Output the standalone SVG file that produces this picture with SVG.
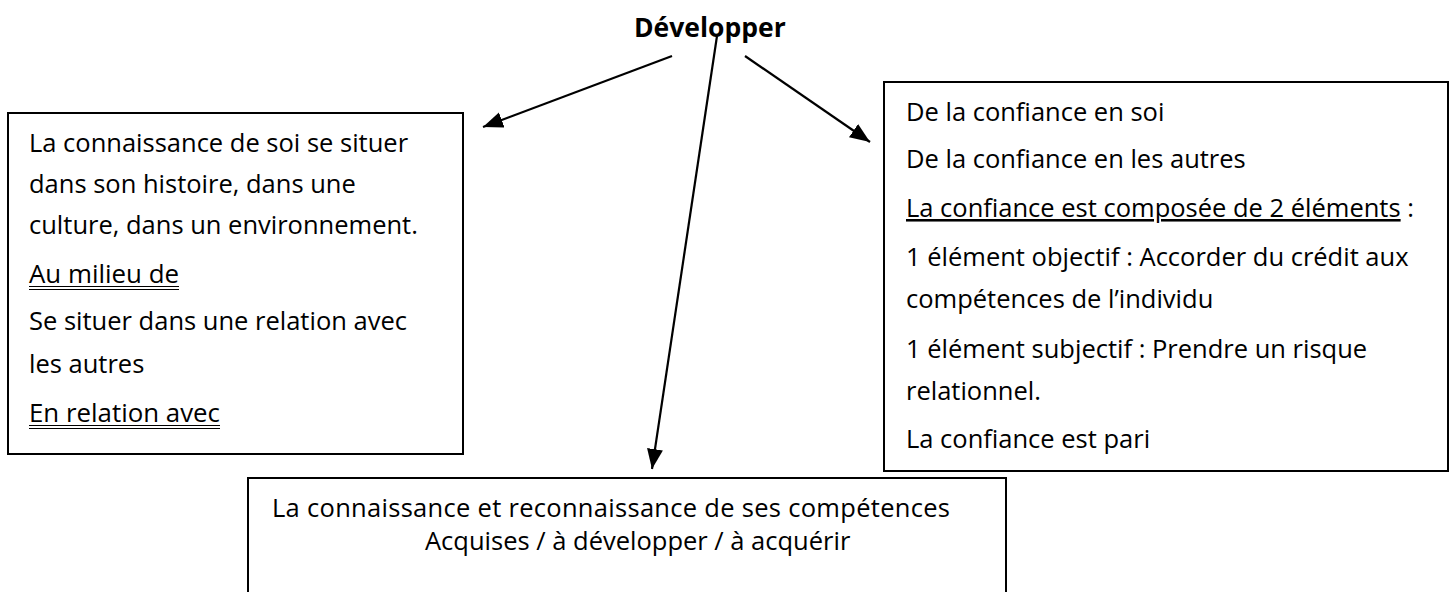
<svg xmlns="http://www.w3.org/2000/svg" width="1452" height="592" viewBox="0 0 1452 592">
<style>
.box{fill:#fff;stroke:#000;stroke-width:2}
.t{font-family:"Open Sans","Liberation Sans",sans-serif;font-size:25.5px;fill:#000}
.title{font-family:"Open Sans","Liberation Sans",sans-serif;font-size:26.5px;font-weight:bold;fill:#000}
.ul{stroke:#000;stroke-width:1}
.conn{stroke:#000;stroke-width:2.2;fill:none}
</style>
<defs>
<marker id="ah" markerUnits="userSpaceOnUse" markerWidth="22" markerHeight="18" refX="20" refY="8" orient="auto">
<path d="M0,0 L20,8 L0,16 z" fill="#000"/>
</marker>
</defs>
<rect width="1452" height="592" fill="#fff"/>
<g id="left-box">
<rect class="box" x="8" y="113" width="455" height="341"/>
<text class="t" x="29" y="152">La connaissance de soi se situer</text>
<text class="t" x="29" y="193">dans son histoire, dans une</text>
<text class="t" x="29" y="234">culture, dans un environnement.</text>
<text class="t" x="29" y="283" textLength="150" lengthAdjust="spacingAndGlyphs">Au milieu de</text>
<line class="ul" x1="29" y1="286.5" x2="179" y2="286.5"/>
<line class="ul" x1="29" y1="289.5" x2="179" y2="289.5"/>
<text class="t" x="29" y="330">Se situer dans une relation avec</text>
<text class="t" x="29" y="373">les autres</text>
<text class="t" x="29" y="422" textLength="191" lengthAdjust="spacingAndGlyphs">En relation avec</text>
<line class="ul" x1="29" y1="425.5" x2="220" y2="425.5"/>
<line class="ul" x1="29" y1="428.5" x2="220" y2="428.5"/>
</g>
<g id="right-box">
<rect class="box" x="884" y="82" width="564" height="389"/>
<text class="t" x="906" y="121">De la confiance en soi</text>
<text class="t" x="906" y="168">De la confiance en les autres</text>
<text class="t" x="906" y="217"><tspan text-decoration="underline">La confiance est composée de 2 éléments</tspan> :</text>
<text class="t" x="906" y="266">1 élément objectif : Accorder du crédit aux</text>
<text class="t" x="906" y="308">compétences de l’individu</text>
<text class="t" x="906" y="358">1 élément subjectif : Prendre un risque</text>
<text class="t" x="906" y="400">relationnel.</text>
<text class="t" x="906" y="448">La confiance est pari</text>
</g>
<g id="bottom-box">
<rect class="box" x="248" y="478" width="758" height="130"/>
<text class="t" x="272" y="517" textLength="678" lengthAdjust="spacing">La connaissance et reconnaissance de ses compétences</text>
<text class="t" x="425" y="550">Acquises / à développer / à acquérir</text>
</g>
<g id="title">
<text class="title" x="634" y="37">Développer</text>
</g>
<g id="connectors">
<line class="conn" x1="672" y1="56" x2="483" y2="127" marker-end="url(#ah)"/>
<line class="conn" x1="745" y1="56" x2="870" y2="142" marker-end="url(#ah)"/>
<line class="conn" x1="717" y1="36" x2="652" y2="469" marker-end="url(#ah)"/>
</g>
</svg>
